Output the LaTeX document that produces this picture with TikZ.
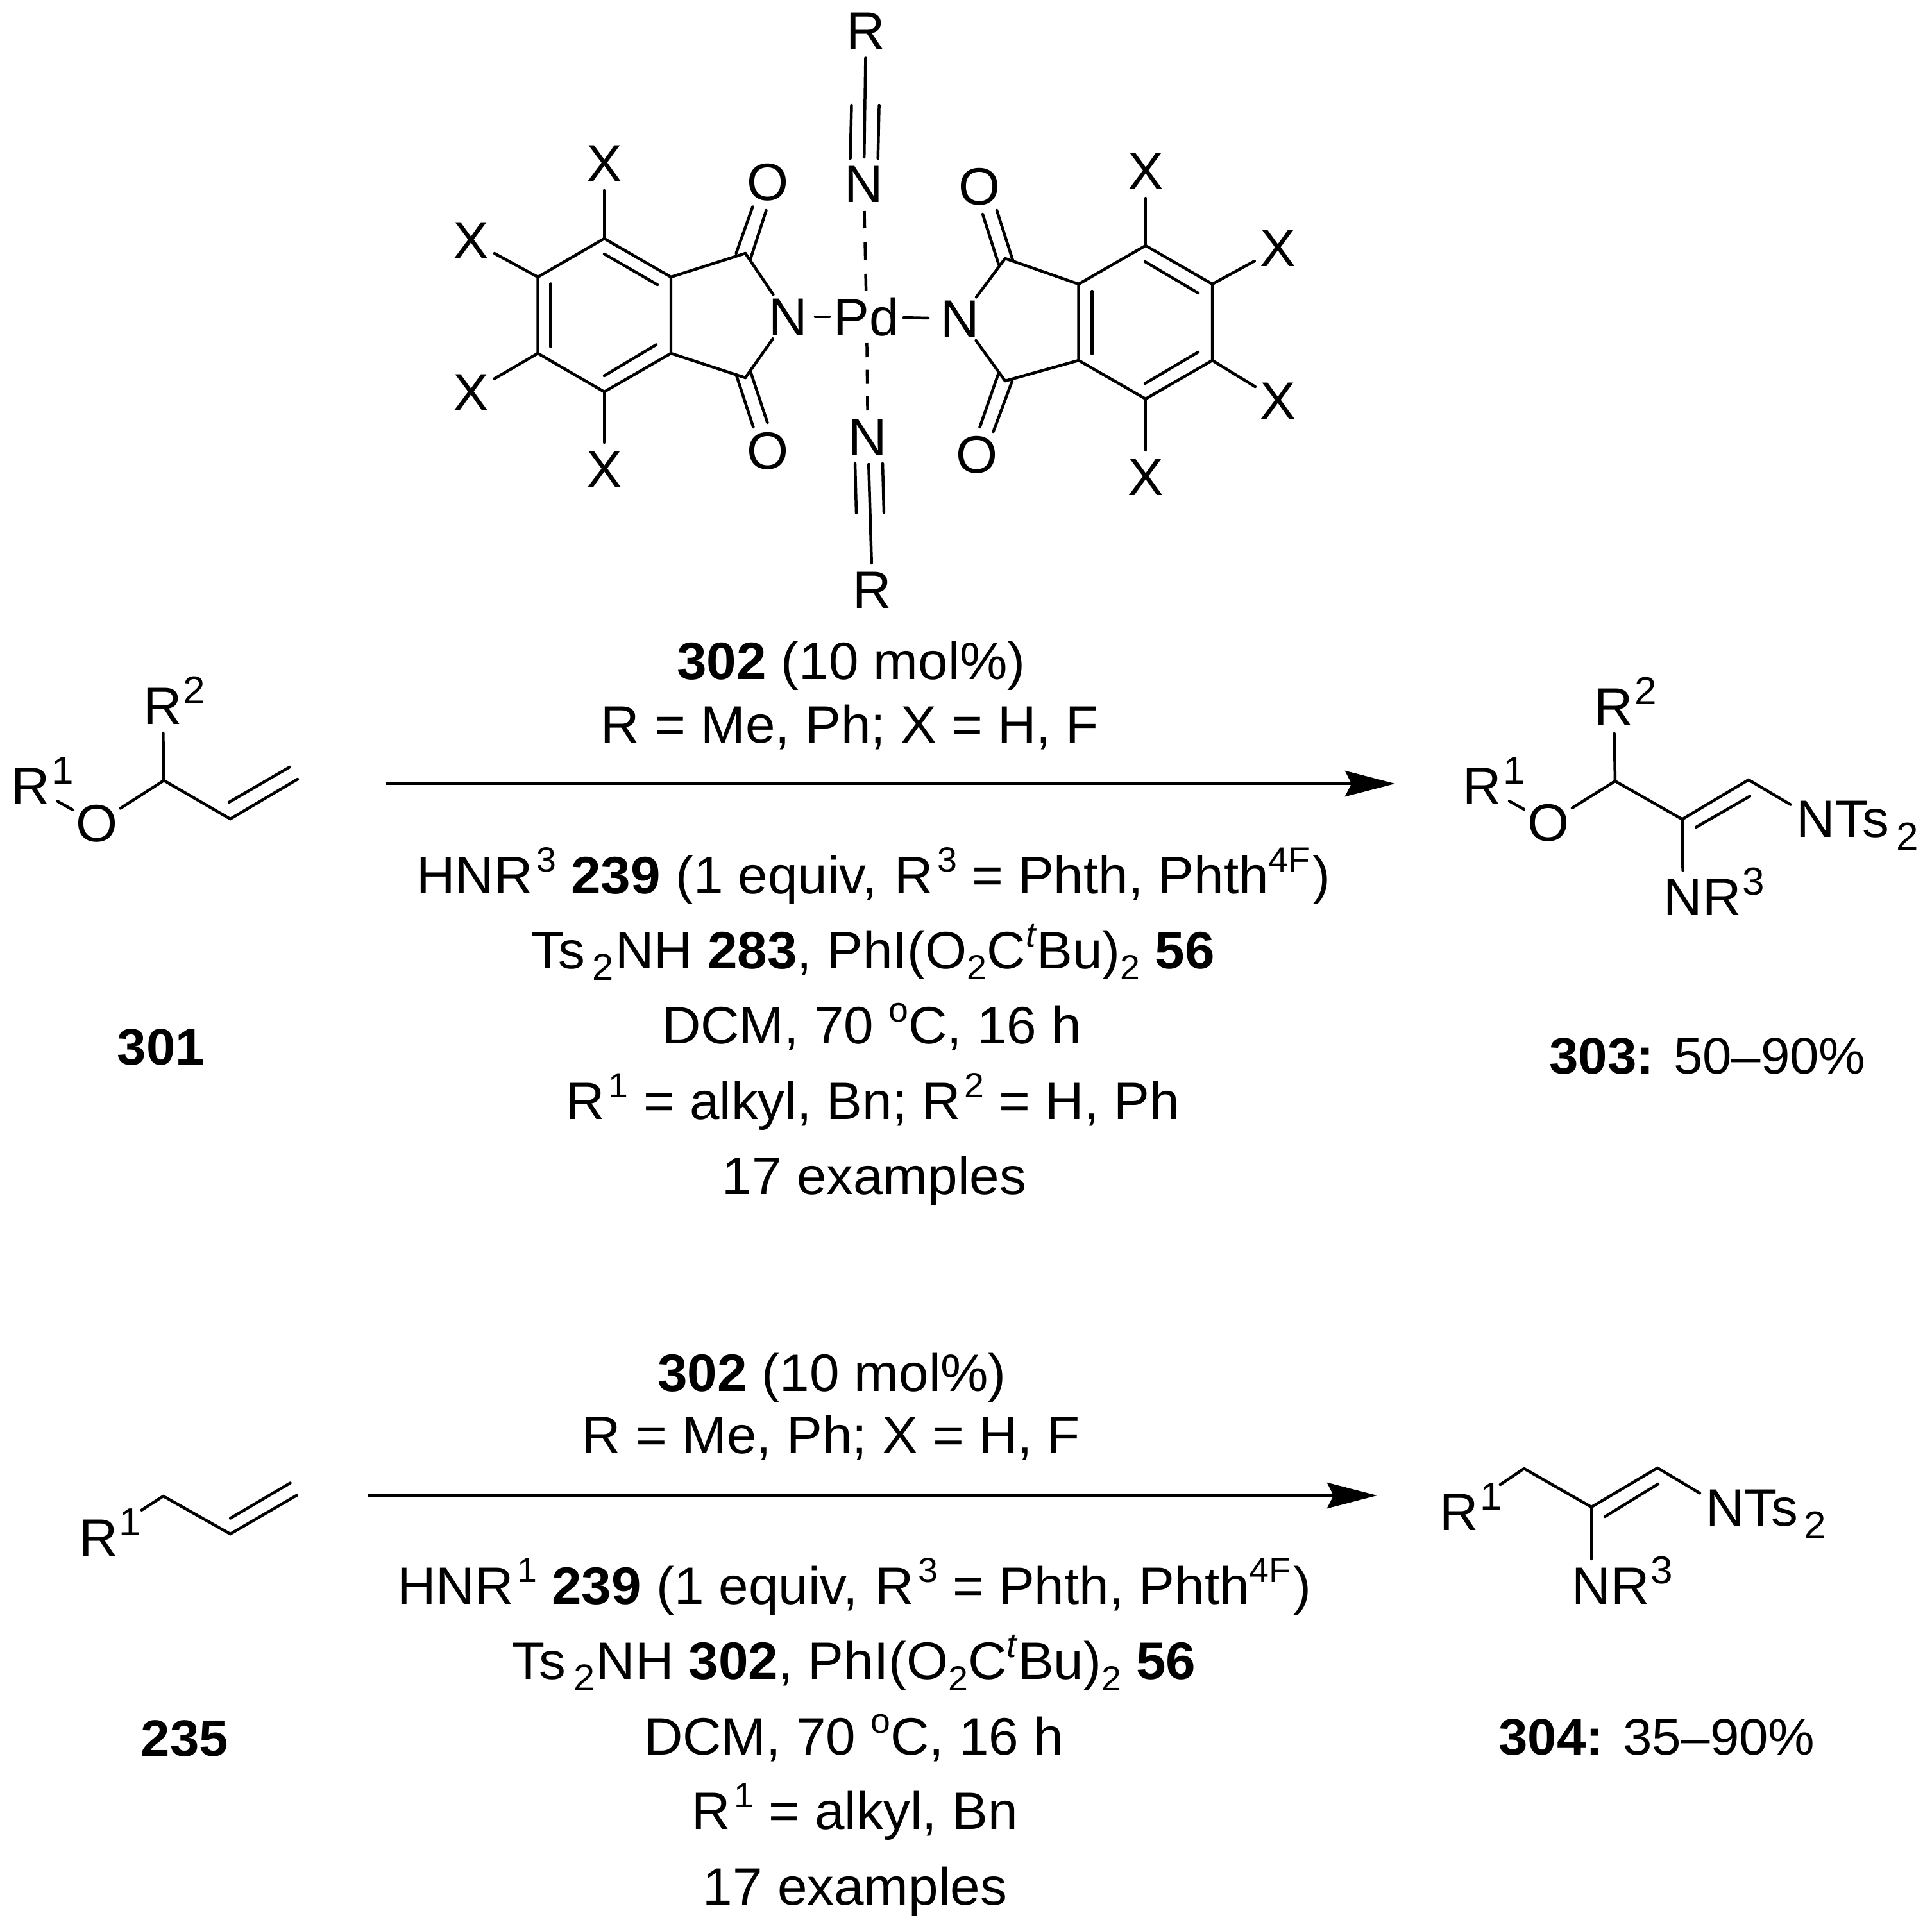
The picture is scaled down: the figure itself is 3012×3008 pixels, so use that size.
\documentclass[tikz,border=0pt]{standalone}
\usepackage{fontspec}
\setmainfont{Liberation Sans}[FakeStretch=1.02]
\usetikzlibrary{arrows.meta}
\newcommand{\chemsize}{\fontsize{20.5}{24}\selectfont}
\newcommand{\lblsize}{\fontsize{20}{24}\selectfont}
\newcommand{\Sp}[1]{\smash{\raisebox{8.4pt}{\fontsize{13.6}{14}\selectfont #1}}}
\newcommand{\Sb}[1]{\smash{\raisebox{-4.4pt}{\fontsize{13.6}{14}\selectfont #1}}}
\newcommand{\SbT}[1]{\smash{\raisebox{-4.6pt}{\fontsize{14.6}{15}\selectfont #1}}}
\newcommand{\ChemSp}[1]{\smash{\raisebox{8pt}{\fontsize{15.2}{16}\selectfont #1}}}
\newcommand{\ChemSb}[1]{\smash{\raisebox{-4.8pt}{\fontsize{15.2}{16}\selectfont #1}}}
\tikzset{
  bond/.style={line width=1.12pt,line cap=round,line join=miter},
  dashbond/.style={bond,line cap=butt,dash pattern=on 6.75pt off 5.5pt},
  dashbondb/.style={bond,line cap=butt,dash pattern=on 5.5pt off 4.9pt},
  rxnarrow/.style={line width=1.2pt,-{Stealth[length=19.5pt,width=10pt,inset=2.5pt]}},
  atom/.style={circle,inner sep=0pt,outer sep=0pt,minimum size=21pt,font=\chemsize},
  metal/.style={rectangle,inner sep=0pt,outer sep=0pt,minimum width=29pt,minimum height=20.5pt,font=\chemsize},
  txt/.style={inner sep=0pt,outer sep=0pt,anchor=base,font=\chemsize},
  lbl/.style={inner sep=0pt,outer sep=0pt,anchor=base,font=\lblsize},
}
\begin{document}
\begin{tikzpicture}[x=0.25pt,y=-0.25pt]
\useasboundingbox (0,0) rectangle (3012,3008);
% ---------- catalyst 302 ----------
\node[atom] (Rt) at (1350,48.5) {R};
\node[atom] (Nt) at (1346.6,287) {N};
\node[atom] (Nb) at (1353,682) {N};
\node[atom] (Rb) at (1360,920) {R};
\node[metal] (Pd) at (1351,494) {Pd};
\node[atom] (N1) at (1229,494) {N};
\node[atom] (N2) at (1497,497) {N};
\node[atom] (O1) at (1197,284) {O};
\node[atom] (O2) at (1197,703) {O};
\node[atom] (O3) at (1527.5,291) {O};
\node[atom] (O4) at (1523,709) {O};
\node[atom] (X1) at (942,255) {X};
\node[atom] (X2) at (734,375) {X};
\node[atom] (X3) at (734,612) {X};
\node[atom] (X4) at (942,732) {X};
\node[atom] (X5) at (1786,267) {X};
\node[atom] (X6) at (1992.6,387) {X};
\node[atom] (X7) at (1992.6,625) {X};
\node[atom] (X8) at (1786,744) {X};
% left ring
\coordinate (a1) at (942,372); \coordinate (a2) at (838.5,432);
\coordinate (a3) at (838.5,551); \coordinate (a4) at (942,611);
\coordinate (a5) at (1046,551); \coordinate (a6) at (1046,432);
\coordinate (c1) at (1162,395); \coordinate (c2) at (1162,589);
\draw[bond] (a1) -- (a2) -- (a3) -- (a4) -- (a5) -- (a6) -- cycle;
\draw[bond] (a6) -- (c1); \draw[bond] (a5) -- (c2);
\draw[bond] (c1) -- (N1); \draw[bond] (c2) -- (N1);
\draw[bond] (a1) -- (X1); \draw[bond] (a2) -- (X2);
\draw[bond] (a3) -- (X3); \draw[bond] (a4) -- (X4);
\coordinate (i1) at (942,396); \coordinate (i2) at (1025,444);
\coordinate (i3) at (858.6,442.5); \coordinate (i4) at (858.6,540.6);
\coordinate (i5) at (942,586); \coordinate (i6) at (1023,537.5);
\draw[bond] (i1) -- (i2); \draw[bond] (i3) -- (i4); \draw[bond] (i5) -- (i6);
\coordinate (d1) at (1147.6,395); \coordinate (d2) at (1173.4,322.5);
\coordinate (d3) at (1169.6,405); \coordinate (d4) at (1194.5,328);
\coordinate (d5) at (1147.6,584); \coordinate (d6) at (1174.4,666);
\coordinate (d7) at (1169.6,578); \coordinate (d8) at (1196.4,659);
\draw[bond] (d1) -- (d2); \draw[bond] (d3) -- (d4);
\draw[bond] (d5) -- (d6); \draw[bond] (d7) -- (d8);
% right ring
\coordinate (b1) at (1786,383); \coordinate (b2) at (1890,443);
\coordinate (b3) at (1890,562); \coordinate (b4) at (1786,622);
\coordinate (b5) at (1681.6,562); \coordinate (b6) at (1681.6,443);
\coordinate (c3) at (1567,403); \coordinate (c4) at (1567,594);
\draw[bond] (b1) -- (b2) -- (b3) -- (b4) -- (b5) -- (b6) -- cycle;
\draw[bond] (b6) -- (c3); \draw[bond] (b5) -- (c4);
\draw[bond] (c3) -- (N2); \draw[bond] (c4) -- (N2);
\draw[bond] (b1) -- (X5); \draw[bond] (b2) -- (X6);
\draw[bond] (b3) -- (X7); \draw[bond] (b4) -- (X8);
\coordinate (j1) at (1702.6,454); \coordinate (j2) at (1702.6,552);
\coordinate (j3) at (1785,408); \coordinate (j4) at (1868,457);
\coordinate (j5) at (1785,598); \coordinate (j6) at (1868,549);
\draw[bond] (j1) -- (j2); \draw[bond] (j3) -- (j4); \draw[bond] (j5) -- (j6);
\coordinate (e1) at (1557,412.5); \coordinate (e2) at (1532,334);
\coordinate (e3) at (1579,406); \coordinate (e4) at (1554,328);
\coordinate (e5) at (1556,584); \coordinate (e6) at (1527.5,666);
\coordinate (e7) at (1578,594); \coordinate (e8) at (1548.6,673);
\draw[bond] (e1) -- (e2); \draw[bond] (e3) -- (e4);
\draw[bond] (e5) -- (e6); \draw[bond] (e7) -- (e8);
% Pd bonds
\draw[bond] (N1) -- (Pd);
\draw[bond,shorten >=2pt] (Pd) -- (N2);
\draw[dashbond] (Nt) -- (Pd);
\draw[dashbondb] (Pd) -- (Nb);
% nitriles
\draw[bond] (Rt) -- (Nt);
\coordinate (t1) at (1327.5,164); \coordinate (t2) at (1325.6,247);
\coordinate (t3) at (1370.6,164); \coordinate (t4) at (1368.7,247);
\draw[bond] (t1) -- (t2); \draw[bond] (t3) -- (t4);
\draw[bond] (Nb) -- (Rb);
\coordinate (u1) at (1333,723); \coordinate (u2) at (1335,800);
\coordinate (u3) at (1376,723); \coordinate (u4) at (1378,799);
\draw[bond] (u1) -- (u2); \draw[bond] (u3) -- (u4);
% ---------- reaction 1 ----------
\node[txt] (t1a) at (1327,1059) {\textbf{302} (10 mol\%)};
\node[txt] (t1b) at (1325,1158) {R = Me, Ph; X = H, F};
\node[txt] (t1c) at (1362,1393) {HNR\kern1.4pt\Sp{3} \textbf{239} (1 equiv,\kern1pt{} R\kern1.4pt\Sp{3} = Phth, Phth\Sp{4F}\kern1pt)};
\node[txt] (t1d) at (1361,1510) {Ts\kern3pt\SbT{2}\kern.6pt NH \textbf{283}, PhI(O\Sb{2}C\Sp{\textit{t}}Bu)\Sb{2} \textbf{56}};
\node[txt] (t1e) at (1359,1627) {DCM, 70 \Sp{o}C, 16 h};
\node[txt] (t1f) at (1361,1745) {R\kern1.4pt\Sp{1} = alkyl, Bn; R\kern1.4pt\Sp{2} = H, Ph};
\node[txt] (t1g) at (1363,1862) {17 examples};
\coordinate (arr1s) at (601,1222); \coordinate (arr1e) at (2175,1222);
\draw[rxnarrow] (arr1s) -- (arr1e);
% substrate 301
\node[atom] (r2a) at (253.6,1101) {R\rlap{\kern.5pt\ChemSp{2}}};
\node[atom] (r1a) at (48,1226) {R\rlap{\kern.5pt\ChemSp{1}}};
\node[atom] (oa) at (151,1284) {O};
\coordinate (ca) at (255.5,1217); \coordinate (cb) at (359,1277); \coordinate (cc) at (464,1215);
\coordinate (cd) at (357,1251); \coordinate (ce) at (451.7,1196);
\draw[bond] (ca) -- (r2a);
\draw[bond] (ca) -- (oa);
\draw[bond,shorten >=1.5pt] (oa) -- (r1a);
\draw[bond] (ca) -- (cb) -- (cc);
\draw[bond] (cd) -- (ce);
\node[lbl] (n301) at (251,1660) {\textbf{301}};
% product 303
\node[atom] (r2p) at (2516,1102) {R\rlap{\kern.5pt\ChemSp{2}}};
\node[atom] (r1p) at (2311,1226) {R\rlap{\kern.5pt\ChemSp{1}}};
\node[atom] (op) at (2414,1283) {O};
\node[atom] (np) at (2831,1278) {N\rlap{Ts\kern3pt\ChemSb{2}}};
\node[atom] (nrp) at (2624,1399) {N\rlap{R\kern.5pt\ChemSp{3}}};
\coordinate (pa) at (2518,1218); \coordinate (pb) at (2622.6,1277.5); \coordinate (pc) at (2726,1216);
\coordinate (pd) at (2644,1290); \coordinate (pe) at (2728,1241.6);
\draw[bond] (pa) -- (r2p);
\draw[bond] (pa) -- (op);
\draw[bond,shorten >=1.5pt] (op) -- (r1p);
\draw[bond] (pa) -- (pb) -- (pc);
\draw[bond,shorten >=1pt] (pc) -- (np);
\draw[bond] (pb) -- (nrp);
\draw[bond] (pd) -- (pe);
\node[lbl] (n303) at (2662,1674) {\textbf{303:} 50–90\%};
% ---------- reaction 2 ----------
\node[txt] (t2a) at (1297,2169) {\textbf{302} (10 mol\%)};
\node[txt] (t2b) at (1296,2266) {R = Me, Ph; X = H, F};
\node[txt] (t2c) at (1332,2501) {HNR\kern1.4pt\Sp{1} \textbf{239} (1 equiv,\kern1pt{} R\kern1.4pt\Sp{3} = Phth, Phth\Sp{4F}\kern1pt)};
\node[txt] (t2d) at (1331.5,2618.5) {Ts\kern3pt\SbT{2}\kern.6pt NH \textbf{302}, PhI(O\Sb{2}C\Sp{\textit{t}}Bu)\Sb{2} \textbf{56}};
\node[txt] (t2e) at (1331,2736) {DCM, 70 \Sp{o}C, 16 h};
\node[txt] (t2f) at (1332.5,2852) {R\kern1.4pt\Sp{1} = alkyl, Bn};
\node[txt] (t2g) at (1333,2970) {17 examples};
\coordinate (arr2s) at (573,2332); \coordinate (arr2e) at (2147,2332);
\draw[rxnarrow] (arr2s) -- (arr2e);
% substrate 235
\node[atom] (r1b) at (153.5,2398) {R\rlap{\kern.5pt\ChemSp{1}}};
\coordinate (ba) at (254.6,2333); \coordinate (bb) at (359,2392); \coordinate (bc) at (463,2331.5);
\coordinate (bd) at (359,2367.6); \coordinate (be) at (452.5,2312.5);
\draw[bond,shorten >=9.5pt] (ba) -- (r1b);
\draw[bond] (ba) -- (bb) -- (bc);
\draw[bond] (bd) -- (be);
\node[lbl] (n235) at (288,2738) {\textbf{235}};
% product 304
\node[atom] (r1q) at (2275,2358) {R\rlap{\kern.5pt\ChemSp{1}}};
\node[atom] (nq) at (2689.5,2352) {N\rlap{Ts\kern2.4pt\ChemSb{2}}};
\node[atom] (nrq) at (2481,2473) {N\rlap{R\kern.5pt\ChemSp{3}}};
\coordinate (qa) at (2376,2290); \coordinate (qb) at (2481,2350); \coordinate (qc) at (2584,2289);
\coordinate (qd) at (2502,2365); \coordinate (qe) at (2585,2314);
\draw[bond,shorten >=8.75pt] (qa) -- (r1q);
\draw[bond] (qa) -- (qb) -- (qc);
\draw[bond,shorten >=1pt] (qc) -- (nq);
\draw[bond] (qb) -- (nrq);
\draw[bond] (qd) -- (qe);
\node[lbl] (n304) at (2583,2736) {\textbf{304:} 35–90\%};
\end{tikzpicture}
\end{document}
